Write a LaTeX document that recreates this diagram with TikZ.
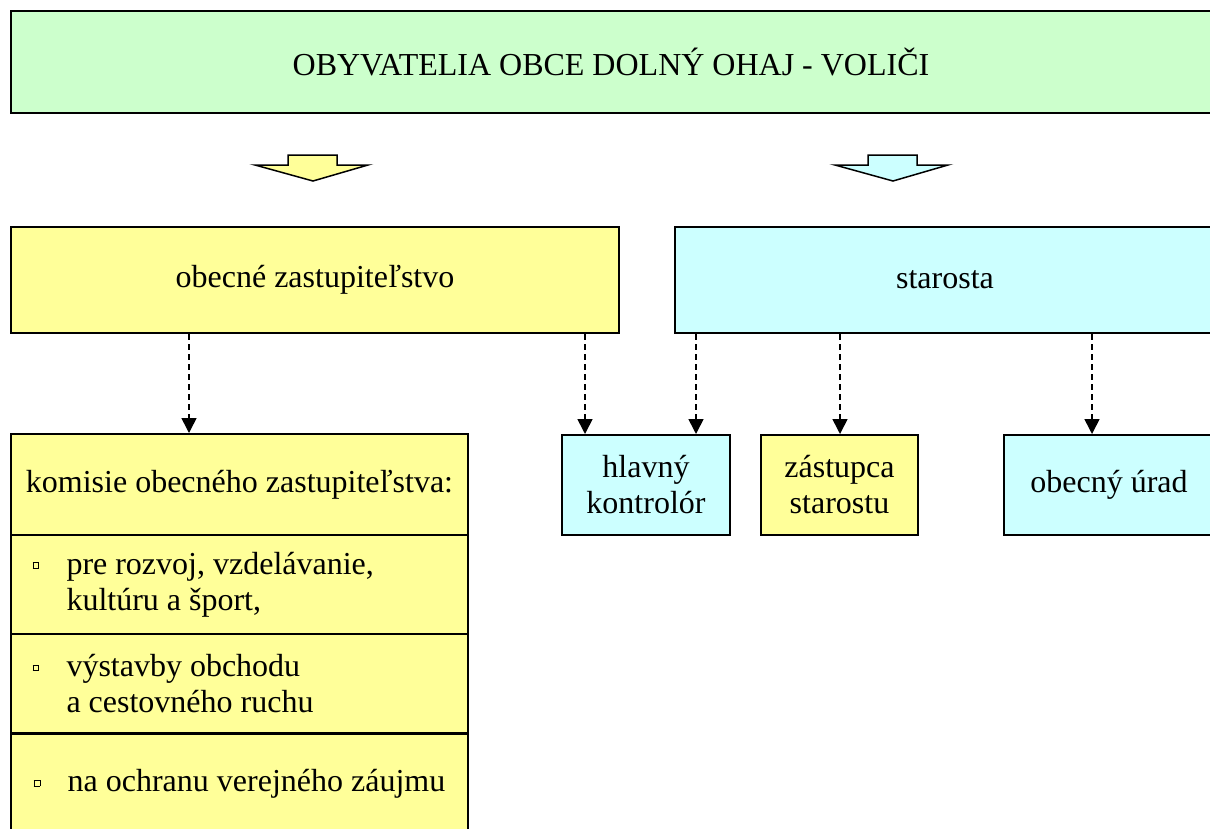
\documentclass[tikz,border=0pt]{standalone}
\usepackage{fontspec}
\setmainfont{Liberation Serif}
\usetikzlibrary{arrows.meta}
\definecolor{cgreen}{HTML}{CCFFCC}
\definecolor{cyel}{HTML}{FFFF99}
\definecolor{ccyan}{HTML}{CCFFFF}
\newcommand\sqbul{\raisebox{6pt}{\fboxsep=0pt\fboxrule=0.9pt\fbox{\rule{0pt}{5pt}\hspace{5pt}}}}
\tikzset{
  box/.style={draw=black, line width=2pt, rectangle, anchor=north west, inner sep=0pt,
    font=\fontsize{32}{36}\selectfont, align=center},
  rowbox/.style={box, align=left, inner xsep=18pt},
  dasharrow/.style={draw=black, line width=1.6pt, dash pattern=on 6pt off 4pt,
    -{Triangle[width=15pt,length=15pt]}},
  blockarrow/.style={draw=black, line width=1.5pt, line join=miter}
}
\begin{document}
\begin{tikzpicture}[x=1pt,y=-1pt]
\clip (0,0) rectangle (1210,828);
\fill[white] (0,0) rectangle (1210,828);
% top box
\node[box, fill=cgreen, minimum width=1200pt, minimum height=102pt] (voters) at (10,10)
  {OBYVATELIA OBCE DOLNÝ OHAJ - VOLIČI};
% block arrows
\draw[blockarrow, fill=cyel] (288,155) -- (337,155) -- (337,165) -- (368,165) -- (313,181) -- (255,165) -- (288,165) -- cycle;
\draw[blockarrow, fill=ccyan] (868,155) -- (917,155) -- (917,165) -- (948,165) -- (893,181) -- (835,165) -- (868,165) -- cycle;
% second level
\node[box, fill=cyel, minimum width=608pt, minimum height=106pt] (zast) at (10,226) {obecné zastupiteľstvo};
\node[box, fill=ccyan, minimum width=540pt, minimum height=106pt] (star) at (674,226) {starosta};
% komisie
\node[rowbox, fill=cyel, minimum width=457pt, minimum height=101pt, inner xsep=12pt] (komhead) at (10,433) {komisie obecného zastupiteľstva:};
\node[rowbox, fill=cyel, minimum width=457pt, minimum height=99pt] (kom1) at (10,534)
  {\makebox[34pt][l]{\sqbul}\parbox[t]{380pt}{pre rozvoj, vzdelávanie,\\kultúru a šport,}};
\node[rowbox, fill=cyel, minimum width=457pt, minimum height=99pt] (kom2) at (10,633)
  {\makebox[34pt][l]{\sqbul}\parbox[t]{380pt}{výstavby obchodu\\a cestovného ruchu}};
\node[rowbox, fill=cyel, minimum width=457pt, minimum height=100pt] (kom3) at (10,733)
  {\makebox[34pt][l]{\sqbul}na ochranu verejného záujmu};
% third level right
\node[box, fill=ccyan, minimum width=168pt, minimum height=100pt] (kontr) at (561,434) {hlavný\\kontrolór};
\node[box, fill=cyel, minimum width=157pt, minimum height=100pt] (zast2) at (760,434) {zástupca\\starostu};
\node[box, fill=ccyan, minimum width=210pt, minimum height=100pt] (urad) at (1003,434) {obecný úrad};
% connectors
\draw[dasharrow] (zast.south -| 189,0) -- (komhead.north -| 189,0);
\draw[dasharrow] (zast.south -| 585,0) -- (kontr.north -| 585,0);
\draw[dasharrow] (star.south -| 696,0) -- (kontr.north -| 696,0);
\draw[dasharrow] (star.south -| 840,0) -- (zast2.north -| 840,0);
\draw[dasharrow] (star.south -| 1092,0) -- (urad.north -| 1092,0);
\end{tikzpicture}
\end{document}
